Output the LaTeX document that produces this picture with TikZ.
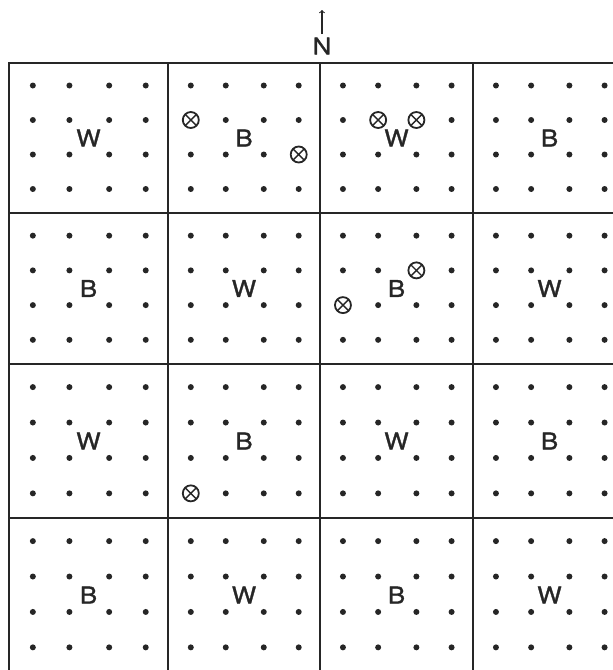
\documentclass[tikz,border=0pt]{standalone}
\usepackage{fontspec}
\setmainfont[FakeBold=1.3, FakeStretch=1.12]{TeX Gyre Heros}
\begin{document}
\begin{tikzpicture}[x=1pt, y=-1pt,
    rejilla/.style={line width=1.5pt, draw=black!85},
    punto/.style={circle, fill=black!85, inner sep=0pt, minimum size=6pt},
    cruz/.style={circle, draw=black!85, fill=white, line width=1.8pt, inner sep=0pt, minimum size=16pt,
      path picture={\draw[line width=1.4pt, black!85]
        (path picture bounding box.south west) -- (path picture bounding box.north east)
        (path picture bounding box.north west) -- (path picture bounding box.south east);}},
    letra/.style={font=\fontsize{23}{23}\selectfont, text=black!85}]
    \useasboundingbox (0,0) rectangle (613,670);

    % Celdas, letras y puntos
    \foreach \c/\xa/\xb in {0/9/168, 1/168/320, 2/320/473, 3/473/626}
      \foreach \r/\ya/\yb in {0/63/213, 1/213/364, 2/364/518, 3/518/672} {
        \draw[rejilla] (\xa,\ya) rectangle (\xb,\yb);
        \node[letra] (celda-\r-\c) at ({(\xa+\xb)/2},{(\ya+\yb)/2}) {\ifodd\numexpr\r+\c\relax B\else W\fi};
        \foreach \i/\fy in {1/0.15, 2/0.38, 3/0.61, 4/0.84}
          \foreach \j/\fx in {1/0.15, 2/0.38, 3/0.63, 4/0.86}
            \node[punto] (p-\r-\c-\i-\j) at ({\xa+\fx*(\xb-\xa)},{\ya+\fy*(\yb-\ya)}) {};
      }

    % Puntos marcados
    \foreach \n in {0-1-2-1, 0-1-3-4, 0-2-2-2, 0-2-2-3, 1-2-2-3, 1-2-3-1, 2-1-4-1}
      \node[cruz] (x-\n) at (p-\n) {};

    % Norte
    \node[letra] (norte) at (322,46) {N};
    \coordinate (punta) at (322,10);
    \draw[->, line width=1.1pt, black!85] (norte.north) -- (punta);
\end{tikzpicture}
\end{document}
